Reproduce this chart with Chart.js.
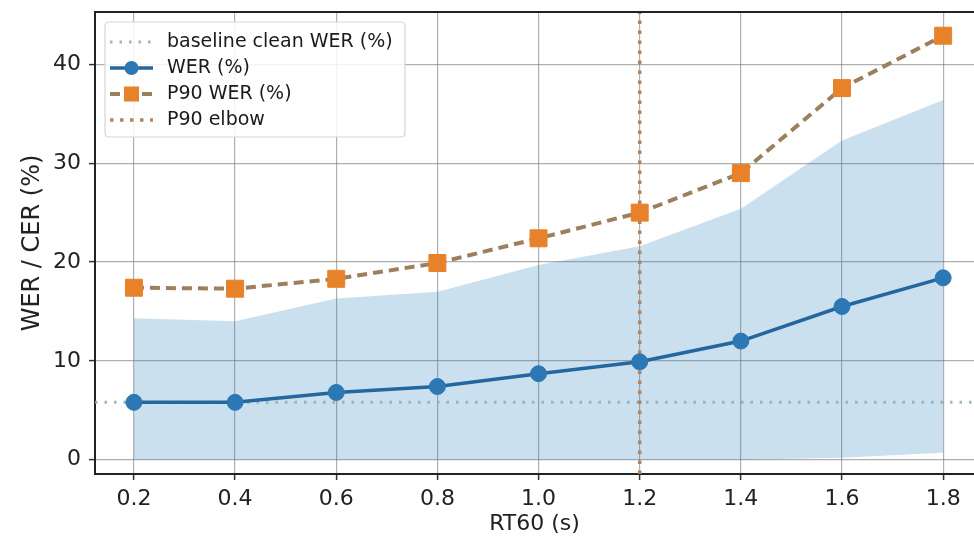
<!DOCTYPE html>
<html><head><meta charset="utf-8">
<script src="https://cdn.jsdelivr.net/npm/chart.js@4.4.1/dist/chart.umd.min.js"></script>
<style>html,body{margin:0;padding:0;background:#fff;overflow:hidden}#wrap{width:974px;height:540px;position:relative}</style>
</head><body><div id="wrap"><canvas id="c"></canvas></div>
<script>
// ---- data ----
const rt60 = [0.2, 0.4, 0.6, 0.8, 1.0, 1.2, 1.4, 1.6, 1.8];
const werMean = [5.8, 5.8, 6.8, 7.4, 8.7, 9.9, 12.0, 15.5, 18.4];
const werP90 = [17.4, 17.3, 18.3, 19.9, 22.4, 25.0, 29.0, 37.6, 42.9];
const bandUpper = [14.3, 14.0, 16.3, 17.0, 19.7, 21.6, 25.4, 32.3, 36.4];
const bandLower = [0, 0, 0, 0, 0, 0, 0, 0.2, 0.7];
const baselineWER = 5.8;
const elbowRT60 = 1.2;
const xTicks = [0.2, 0.4, 0.6, 0.8, 1.0, 1.2, 1.4, 1.6, 1.8];
const yTicks = [0, 10, 20, 30, 40];
const xRange = [0.123, 1.861];
const yRange = [-1.45, 45.3];
const labels = ['baseline clean WER (%)', 'WER (%)', 'P90 WER (%)', 'P90 elbow'];
const xTitle = 'RT60 (s)';
const yTitle = 'WER / CER (%)';

const pts = (xs, ys) => xs.map((x, i) => ({x, y: ys[i]}));
const FONT = "'DejaVu Sans', sans-serif";

const datasets = [
  { label: 'band-lower', data: pts(rt60, bandLower), borderWidth: 0, pointRadius: 0, fill: false, order: 10 },
  { label: 'band-upper', data: pts(rt60, bandUpper), borderWidth: 0, pointRadius: 0,
    fill: { target: 0 }, backgroundColor: 'rgba(31,119,180,0.23)', order: 9 },
  { label: labels[0], data: [{x: xRange[0], y: baselineWER}, {x: xRange[1], y: baselineWER}],
    borderColor: 'rgba(140,170,180,0.85)', borderWidth: 3, borderDash: [2.5, 7], pointRadius: 0, fill: false, order: 5 },
  { label: labels[1], data: pts(rt60, werMean), borderColor: '#24679f', borderWidth: 3.5,
    pointStyle: 'circle', pointRadius: 8, pointBackgroundColor: '#2b78b5', pointBorderColor: '#2b78b5', pointBorderWidth: 1, fill: false, order: 2 },
  { label: labels[2], data: pts(rt60, werP90), borderColor: '#9c7f5c', borderWidth: 4, borderDash: [10, 6],
    pointStyle: 'rect', pointRadius: 12, pointBackgroundColor: '#e8822a', pointBorderColor: '#e8822a', pointBorderWidth: 1, fill: false, order: 1 },
  { label: labels[3], data: [{x: elbowRT60, y: yRange[0]}, {x: elbowRT60, y: yRange[1]}],
    borderColor: '#b4825c', borderWidth: 3.5, borderDash: [3.5, 6.5], pointRadius: 0, fill: false, order: 4 }
];

const legendIdx = [2, 3, 4, 5];

const framePlugin = {
  id: 'frameLegend',
  afterDraw(chart) {
    const {ctx, chartArea: a} = chart;
    ctx.save();
    ctx.strokeStyle = '#222'; ctx.lineWidth = 2;
    ctx.beginPath(); ctx.moveTo(a.left, a.top); ctx.lineTo(a.right, a.top); ctx.stroke();
    const bx = a.left + 10, by = a.top + 10, bw = 300, bh = 115, r = 4;
    ctx.beginPath();
    ctx.moveTo(bx + r, by); ctx.lineTo(bx + bw - r, by); ctx.quadraticCurveTo(bx + bw, by, bx + bw, by + r);
    ctx.lineTo(bx + bw, by + bh - r); ctx.quadraticCurveTo(bx + bw, by + bh, bx + bw - r, by + bh);
    ctx.lineTo(bx + r, by + bh); ctx.quadraticCurveTo(bx, by + bh, bx, by + bh - r);
    ctx.lineTo(bx, by + r); ctx.quadraticCurveTo(bx, by, bx + r, by);
    ctx.closePath();
    ctx.fillStyle = 'rgba(255,255,255,0.85)'; ctx.fill();
    ctx.strokeStyle = '#d6d6d6'; ctx.lineWidth = 1.2; ctx.stroke();
    legendIdx.forEach((di, i) => {
      const ds = chart.data.datasets[di];
      const y = by + 20 + i * 26;
      const x0 = bx + 5, x1 = bx + 48, xm = (x0 + x1) / 2;
      ctx.strokeStyle = ds.borderColor; ctx.lineWidth = ds.borderWidth;
      ctx.setLineDash(ds.borderDash || []);
      ctx.beginPath(); ctx.moveTo(x0, y); ctx.lineTo(x1, y); ctx.stroke();
      ctx.setLineDash([]);
      if (ds.pointRadius > 0) {
        ctx.fillStyle = ds.pointBackgroundColor;
        if (ds.pointStyle === 'circle') {
          ctx.beginPath(); ctx.arc(xm, y, 7, 0, Math.PI * 2); ctx.fill();
        } else {
          ctx.fillRect(xm - 7.5, y - 7.5, 15, 15);
        }
      }
      ctx.fillStyle = '#1a1a1a'; ctx.font = '19px ' + FONT;
      ctx.textBaseline = 'middle'; ctx.textAlign = 'left';
      ctx.fillText(ds.label, bx + 62, y);
    });
    ctx.restore();
  }
};

new Chart(document.getElementById('c'), {
  type: 'line',
  data: { datasets },
  plugins: [framePlugin],
  options: {
    responsive: true, maintainAspectRatio: false, animation: false,
    layout: { autoPadding: false, padding: { top: 12, right: 0, left: 0, bottom: 0 } },
    plugins: { legend: { display: false }, tooltip: { enabled: false }, filler: { propagate: false } },
    elements: { line: { tension: 0 } },
    scales: {
      x: {
        type: 'linear', min: xRange[0], max: xRange[1],
        afterBuildTicks: s => { s.ticks = xTicks.map(v => ({value: v})); },
        afterFit: s => { s.height = 66; s.paddingLeft = 0; s.paddingRight = 0; },
        ticks: { color: '#222', font: { family: FONT, size: 22 }, padding: 6, maxRotation: 0,
          callback: v => Number(v).toFixed(1) },
        grid: { color: 'rgba(110,110,110,0.55)', lineWidth: 1.2, tickLength: 6, tickColor: '#333', tickWidth: 1.5 },
        border: { color: '#222', width: 2 },
        title: { display: true, text: xTitle, color: '#222', font: { family: FONT, size: 22 }, padding: { top: 0, bottom: 3 } }
      },
      y: {
        type: 'linear', min: yRange[0], max: yRange[1],
        afterBuildTicks: s => { s.ticks = yTicks.map(v => ({value: v})); },
        afterFit: s => { s.width = 95; s.paddingTop = 0; s.paddingBottom = 0; },
        ticks: { color: '#222', font: { family: FONT, size: 22 }, padding: 8, callback: v => String(v) },
        grid: { color: 'rgba(110,110,110,0.55)', lineWidth: 1.2, tickLength: 6, tickColor: '#333', tickWidth: 1.5 },
        border: { color: '#222', width: 2 },
        title: { display: true, text: yTitle, color: '#222', font: { family: FONT, size: 24 }, padding: { top: 18, bottom: 0 } }
      }
    }
  }
});
</script></body></html>
